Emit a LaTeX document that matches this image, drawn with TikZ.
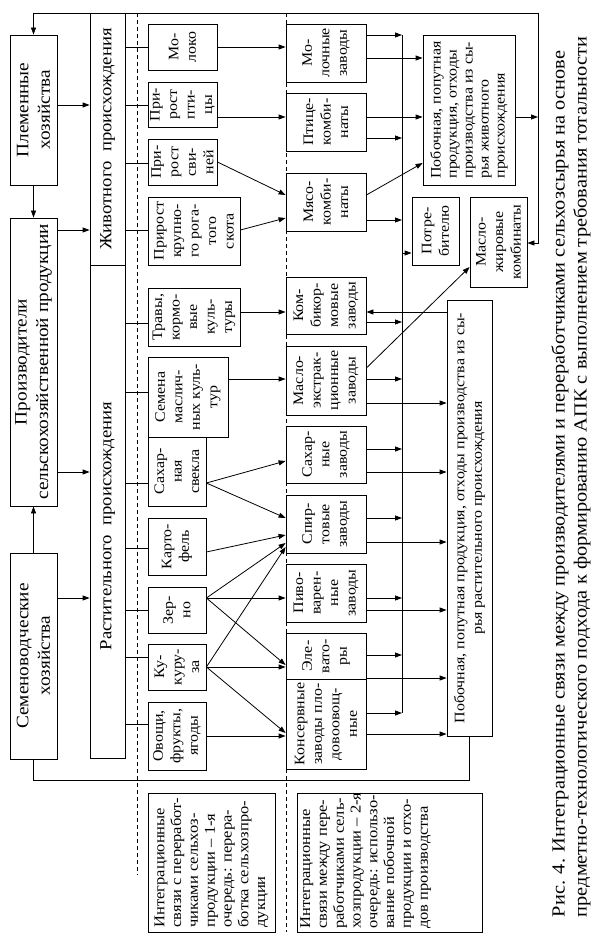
\documentclass[tikz,border=0pt]{standalone}
\usepackage{fontspec}
\setmainfont{Liberation Serif}[FakeStretch=1.1]
\usetikzlibrary{arrows.meta}

\begin{document}
\begin{tikzpicture}[x=1pt, y=-1pt, line width=0.8pt,
  >={Triangle[length=7pt, width=5pt]},
  box/.style 2 args={draw, rotate=90, align=center, inner sep=0.5pt,
    minimum width=#2, minimum height=#1, font=\fontsize{14.5}{17.5}\selectfont},
  big/.style 2 args={box={#1}{#2}, font=\fontsize{17.5}{21.5}\selectfont},
  col/.style 2 args={draw, rotate=90, minimum width=#2, minimum height=#1},
  lbl/.style={font=\fontsize{17}{20}\selectfont},
  leg/.style={align=left, font=\fontsize{15}{16.8}\selectfont},
  guide/.style={dash pattern=on 4pt off 3pt, line width=0.6pt}]
\useasboundingbox (0,0) rectangle (596,949);

% producers
\node[big={47pt}{150pt}] (plem) at (33.5,110) {Племенные\\хозяйства};
\node[big={47pt}{288pt}] (proizv) at (33.5,362) {Производители\\сельскохозяйственной продукции};
\node[big={47pt}{206pt}] (semen) at (33.5,656) {Семеноводческие\\хозяйства};

% raw material groups
\node[col={35pt}{252pt}, lbl] (zhiv) at (107.5,139) {Животного\ \ происхождения};
\node[col={35pt}{493pt}] (rast) at (107.5,511.5) {};
\node[lbl, rotate=90] (rastlbl) at (107.5,526) {Растительного\ \ происхождения};

% raw materials
\node[box={69pt}{46pt}] (molo) at (182.5,47) {Мо-\\локо};
\node[box={69pt}{45pt}] (ptic) at (182.5,104.5) {При-\\рост\\пти-\\цы};
\node[box={69pt}{46pt}] (svin) at (182.5,162) {При-\\рост\\сви-\\ней};
\node[box={92pt}{68pt}] (krs) at (194,231) {Прирост\\крупно-\\го рога-\\того\\скота};
\node[box={92pt}{58pt}] (trav) at (194,317) {Травы,\\кормо-\\вые\\куль-\\туры};
\node[box={80pt}{80pt}] (semm) at (188,397) {Семена\\маслич-\\ных куль-\\тур};
\node[box={58pt}{69pt}] (sakh) at (177,471.5) {Сахар-\\ная\\свекла};
\node[box={58pt}{57pt}] (kart) at (177,546.5) {Карто-\\фель};
\node[box={58pt}{46pt}] (zern) at (177,610) {Зер-\\но};
\node[box={58pt}{46pt}] (kuku) at (177,667) {Ку-\\куру-\\за};
\node[box={58pt}{68pt}] (ovos) at (177,736) {Овощи,\\фрукты,\\ягоды};

% processors
\node[box={80pt}{58pt}] (molz) at (326,53) {Мо-\\лочные\\заводы};
\node[box={80pt}{58pt}] (ptiz) at (326,122) {Птице-\\комби-\\наты};
\node[box={80pt}{58pt}] (myas) at (326,202) {Мясо-\\комби-\\наты};
\node[box={80pt}{57pt}] (komb) at (326,305.5) {Ком-\\бикор-\\мовые\\заводы};
\node[box={80pt}{69pt}] (masz) at (326,380.5) {Масло-\\экстрак-\\ционные\\заводы};
\node[box={80pt}{57pt}] (sakz) at (326,454.5) {Сахар-\\ные\\заводы};
\node[box={80pt}{58pt}] (spir) at (326,524) {Спир-\\товые\\заводы};
\node[box={80pt}{58pt}] (pivo) at (326,593) {Пиво-\\варен-\\ные\\заводы};
\node[box={80pt}{46pt}] (elev) at (326,656) {Эле-\\вато-\\ры};
\node[box={80pt}{90pt}] (kons) at (326,724) {Консервные\\заводы пло-\\довоовощ-\\ные};

% outputs
\node[box={92pt}{150pt}, align=left, font=\fontsize{14.5}{16}\selectfont] (pobz) at (469,110)
  {Побочная, попутная\\продукция, отходы\\производства из сы-\\рья животного\\происхождения};
\node[box={47pt}{68pt}] (potr) at (435.5,231) {Потре-\\бителю};
\node[box={57pt}{90pt}] (mzhk) at (498.5,242) {Масло-\\жировые\\комбинаты};
\node[box={45pt}{436pt}] (pobr) at (469.5,518)
  {Побочная, попутная продукция, отходы производства из сы-\\рья растительного происхождения};

% legend
\node[box={127pt}{139pt}, leg] (leg1) at (211.5,862.5)
  {Интеграционные\\связи с переработ-\\чиками сельхоз-\\продукции – 1-я\\очередь: перера-\\ботка сельхозпро-\\дукции};
\node[box={185pt}{139pt}] (leg2) at (389.5,862.5) {};
\node[leg, rotate=90, anchor=north west] (leg2txt) at (leg2.north west)
  {Интеграционные\\связи между пере-\\работчиками сель-\\хозпродукции – 2-я\\очередь: использо-\\вание побочной\\продукции и отхо-\\дов производства};

\node[rotate=90, align=left, font=\fontsize{18.5}{22}\selectfont] (cap) at (571,477)
  {Рис. 4. Интеграционные связи между производителями и переработчиками сельхозсырья на основе\\предметно-технологического подхода к формированию АПК с выполнением требования тотальности};

% stage borders
\draw[guide] (137,13) -- (137,875);
\draw[guide] (286,13) -- (286,932);

% feedback loops
\coordinate (topr) at (538,13);
\coordinate (botl) at (33.5,780);
\draw[->] (pobz.south |- 0,117) -- (topr |- 0,117);
\draw[->] (topr) -- (plem.east |- topr) -- (plem.east);
\draw[->] (topr) -- (topr |- 0,243) -- (mzhk.south |- 0,243);
\draw (pobr.west) -- (pobr.west |- botl) -- (botl) -- (semen.west);

% producers to groups
\draw[->] (plem.west) -- (proizv.east);
\draw[->] (semen.east) -- (proizv.west);
\draw[->] (plem.south |- 0,105) -- (zhiv.north |- 0,105);
\draw[->] (proizv.south |- 0,230) -- (zhiv.north |- 0,230);
\draw[->] (proizv.south |- 0,472) -- (rast.north |- 0,472);
\draw[->] (semen.south |- 0,598) -- (rast.north |- 0,598);

% groups to raw materials
\draw (zhiv.south |- 0,47) -- (molo.north |- 0,47);
\draw (zhiv.south |- 0,105) -- (ptic.north |- 0,105);
\draw (zhiv.south |- 0,163) -- (svin.north |- 0,163);
\draw (zhiv.south |- 0,230) -- (krs.north |- 0,230);
\draw (rast.south |- 0,323) -- (trav.north |- 0,323);
\draw (rast.south |- 0,392) -- (semm.north |- 0,392);
\draw (rast.south |- 0,483) -- (sakh.north |- 0,483);
\draw (rast.south |- 0,548) -- (kart.north |- 0,548);
\draw (rast.south |- 0,610) -- (zern.north |- 0,610);
\draw (rast.south |- 0,657) -- (kuku.north |- 0,657);
\draw (rast.south |- 0,724) -- (ovos.north |- 0,724);

% raw materials to processors
\draw[->] (molo.south |- 0,47) -- (molz.north |- 0,47);
\draw[->] (ptic.south |- 0,117) -- (ptiz.north |- 0,117);
\draw[->] (svin.south |- 0,162) -- (myas.north |- 0,195);
\draw[->] (krs.south |- 0,230) -- (myas.north |- 0,218);
\draw[->] (trav.south |- 0,312) -- (komb.north |- 0,312);
\draw[->] (semm.south |- 0,379) -- (masz.north |- 0,379);
\draw[->] (sakh.south |- 0,483) -- (sakz.north |- 0,461);
\draw[->] (sakh.south |- 0,483) -- (spir.north |- 0,518);
\draw[->] (kart.south |- 0,552) -- (spir.north |- 0,535);
\draw[->] (zern.south |- 0,598) -- (spir.north |- 0,543);
\draw[->] (zern.south |- 0,598) -- (pivo.north |- 0,598);
\draw[->] (zern.south |- 0,598) -- (elev.north |- 0,665);
\draw[->] (kuku.south |- 0,667) -- (spir.north |- 0,547);
\draw[->] (kuku.south |- 0,667) -- (elev.north |- 0,667);
\draw[->] (kuku.south |- 0,667) -- (kons.north |- 0,733);
\draw[->] (ovos.south |- 0,736) -- (kons.north |- 0,736);

% processors to outputs
\coordinate (busT) at (402,35);
\coordinate (busB) at (402,713);
\draw (busT) -- (busB);
\draw[->] (molz.south |- busT) -- (busT);
\draw[->] (molz.south |- 0,58) -- (pobz.north |- 0,58);
\draw[->] (ptiz.south |- 0,117) -- (pobz.north |- 0,117);
\draw[->] (ptiz.south |- 0,138) -- (busT |- 0,138);
\draw[->] (myas.south |- 0,195) -- (pobz.north |- 0,163);
\draw[->] (myas.south |- 0,220) -- (busT |- 0,220);
\draw[->] (busT |- 0,253) -- (potr.north |- 0,253);
\draw[->] (masz.south |- 0,368) -- (mzhk.north |- 0,267);
\draw[->] (pobr.north |- 0,312) -- (komb.south |- 0,312);
\draw[->] (komb.south |- 0,322) -- (busT |- 0,322);
\draw[->] (masz.south |- 0,379) -- (busT |- 0,379);
\draw[->] (masz.south |- 0,403) -- (pobr.north |- 0,403);
\draw[->] (sakz.south |- 0,449) -- (busT |- 0,449);
\draw[->] (sakz.south |- 0,472) -- (pobr.north |- 0,472);
\draw[->] (spir.south |- 0,518) -- (busT |- 0,518);
\draw[->] (spir.south |- 0,542) -- (pobr.north |- 0,542);
\draw[->] (pivo.south |- 0,598) -- (busT |- 0,598);
\draw[->] (pivo.south |- 0,610) -- (pobr.north |- 0,610);
\draw[->] (elev.south |- 0,655) -- (busT |- 0,655);
\draw[->] (elev.south |- 0,678) -- (pobr.north |- 0,678);
\draw[->] (kons.south |- 0,713) -- (busB);
\draw[->] (kons.south |- 0,734) -- (pobr.north |- 0,734);
\end{tikzpicture}
\end{document}
